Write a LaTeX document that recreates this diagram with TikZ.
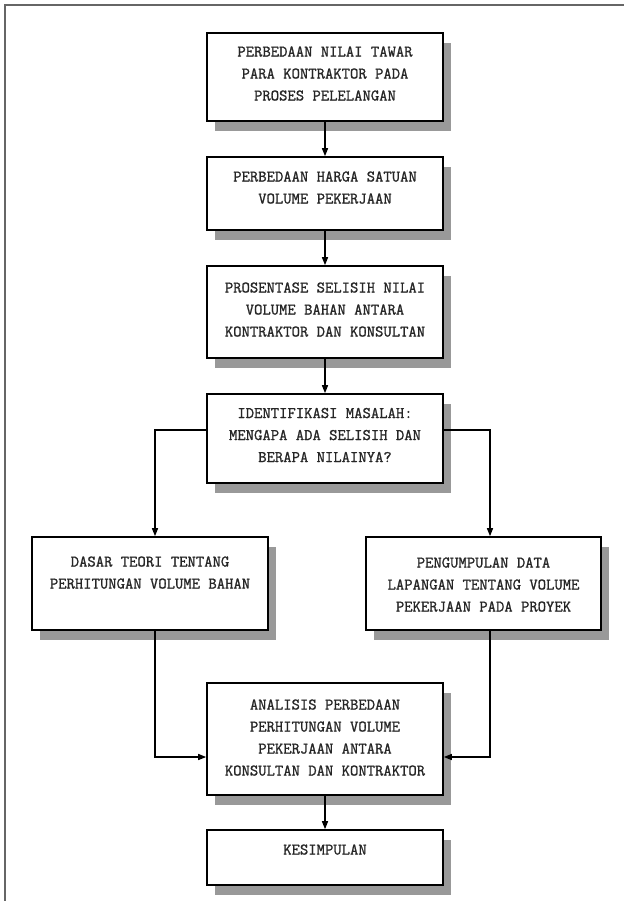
\documentclass[tikz,border=0pt]{standalone}
\usepackage{fontspec}
\setmonofont[FakeBold=1.2]{Latin Modern Mono}
\usetikzlibrary{shadows,arrows.meta}
\begin{document}
\begin{tikzpicture}[x=1pt,y=-1pt,
  box/.style={draw=black, line width=1.6pt, fill=white, inner sep=0pt,
    minimum width=236pt,
    drop shadow={shadow xshift=8pt, shadow yshift=-10pt, fill=black!40, opacity=1}},
  txt/.style={anchor=north, inner sep=0pt, align=center, text=black!85,
    font=\ttfamily\fontsize{16.2}{22}\selectfont},
  arr/.style={draw=black, line width=1.3pt, -{Triangle[length=8pt,width=6pt]}},
  frame/.style={draw=black!60, line width=1.5pt}]
\useasboundingbox (0,0) rectangle (624,901);
\fill[white] (0,0) rectangle (624,901);
\coordinate (f1) at (5,901);
\coordinate (f2) at (5,5);
\coordinate (f3) at (624,5);
\draw[frame] (f1) -- (f2) -- (f3);

\node[box, minimum height=88pt] (b1) at (325,77) {};
\node[box, minimum height=73pt] (b2) at (325,193.5) {};
\node[box, minimum height=92pt] (b3) at (325,312) {};
\node[box, minimum height=89pt] (b4) at (325,438.5) {};
\node[box, minimum height=93pt] (b5) at (150,583.5) {};
\node[box, minimum height=93pt, minimum width=235pt] (b6) at (483.5,583.5) {};
\node[box, minimum height=112pt] (b7) at (325,739) {};
\node[box, minimum height=55pt] (b8) at (325,857.5) {};

\node[txt] (t1) at ([yshift=-14pt]b1.north) {PERBEDAAN NILAI TAWAR\\PARA KONTRAKTOR PADA\\PROSES PELELANGAN};
\node[txt] (t2) at ([yshift=-15pt]b2.north) {PERBEDAAN HARGA SATUAN\\VOLUME PEKERJAAN};
\node[txt] (t3) at ([yshift=-17pt]b3.north) {PROSENTASE SELISIH NILAI\\VOLUME BAHAN ANTARA\\KONTRAKTOR DAN KONSULTAN};
\node[txt] (t4) at ([yshift=-14.5pt]b4.north) {IDENTIFIKASI MASALAH:\\MENGAPA ADA SELISIH DAN\\BERAPA NILAINYA?};
\node[txt] (t5) at ([yshift=-20pt]b5.north) {DASAR TEORI TENTANG\\PERHITUNGAN VOLUME BAHAN};
\node[txt] (t6) at ([yshift=-21pt]b6.north) {PENGUMPULAN DATA\\LAPANGAN TENTANG VOLUME\\PEKERJAAN PADA PROYEK};
\node[txt] (t7) at ([yshift=-17pt]b7.north) {ANALISIS PERBEDAAN\\PERHITUNGAN VOLUME\\PEKERJAAN ANTARA\\KONSULTAN DAN KONTRAKTOR};
\node[txt] (t8) at ([yshift=-15pt]b8.north) {KESIMPULAN};

\draw[arr] (b1) -- (b2);
\draw[arr] (b2) -- (b3);
\draw[arr] (b3) -- (b4);
\draw[arr] ([yshift=8.5pt]b4.west) -| ([xshift=5pt]b5.north);
\draw[arr] ([yshift=8.5pt]b4.east) -| ([xshift=6.5pt]b6.north);
\draw[arr] ([xshift=5pt]b5.south) |- ([yshift=-18pt]b7.west);
\draw[arr] ([xshift=6.5pt]b6.south) |- ([yshift=-18pt]b7.east);
\draw[arr] (b7) -- (b8);
\end{tikzpicture}
\end{document}
